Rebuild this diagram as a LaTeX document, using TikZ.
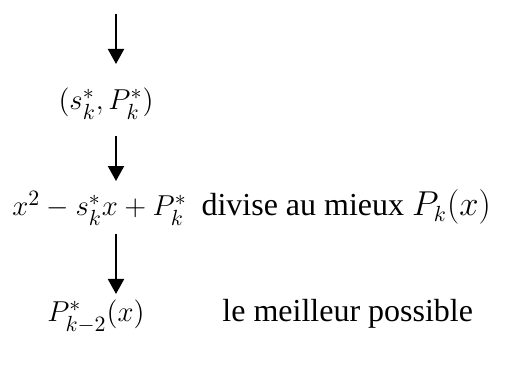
\documentclass[tikz,border=0pt]{standalone}
\usepackage{fontspec}
\setmainfont{Liberation Serif}
\usepackage{amsmath}
\usetikzlibrary{arrows.meta,positioning}
\tikzset{
  flow/.style={-{Triangle[width=8pt,length=7.5pt]}, line width=1pt},
  formula/.style={font=\fontsize{15.6}{18}\selectfont, inner sep=0pt, anchor=base},
  note/.style={font=\fontsize{16}{19}\selectfont, inner sep=0pt, anchor=base west}
}

\begin{document}
\begin{tikzpicture}[x=0.5pt,y=-0.5pt]
  \useasboundingbox (0,0) rectangle (505,367);
  \coordinate (in) at (116,14);
  \node[formula] (pair) at (106,110) {$(s_k^*,P_k^*)$};
  \node[formula,anchor=base west] (quad) at (12,216) {$x^2-s_k^*x+P_k^*$};
  \node[note,base right=7pt of quad] (div) {divise au mieux $P_k(x)$};
  \node[formula] (rem) at (96,322) {$P_{k-2}^*(x)$};
  \node[note] (best) at (222,322) {le meilleur possible};
  % arrows down the column
  \draw[flow,shorten >=12pt] (in) -- (in |- pair.north);
  \draw[flow,shorten <=8pt,shorten >=5pt] (in |- pair.south) -- (in |- quad.north);
  \draw[flow,shorten <=4pt,shorten >=3pt] (in |- quad.south) -- (in |- rem.north);
\end{tikzpicture}
\end{document}
